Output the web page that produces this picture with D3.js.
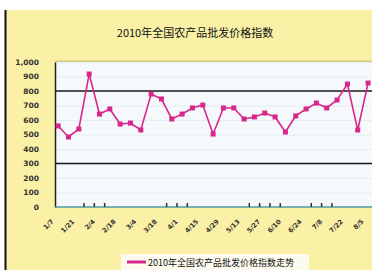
<!DOCTYPE html>
<html>
<head>
<meta charset="utf-8">
<script src="https://cdn.jsdelivr.net/npm/d3@7"></script>
<style>
  body { margin: 0; background: #fff; }
  svg { display: block; }
</style>
</head>
<body>
<div id="chart"></div>
<script>
var TITLE = "2010年全国农产品批发价格指数";
var LEGEND_LABEL = "2010年全国农产品批发价格指数走势";

// weekly dates, one per point
var CATEGORIES = [
    "1/7", "1/14", "1/21", "1/28", "2/4", "2/11", "2/18", "2/25", "3/4", "3/11",
    "3/18", "3/25", "4/1", "4/8", "4/15", "4/22", "4/29", "5/6", "5/13", "5/20",
    "5/27", "6/3", "6/10", "6/17", "6/24", "7/1", "7/8", "7/15", "7/22", "7/29", "8/5"
];
var VALUES = [
    559, 483, 538, 917, 641, 676, 572, 579, 531, 779,
    745, 607, 641, 683, 703, 503, 683, 683, 607, 621,
    648, 621, 517, 628, 676, 717, 683, 738, 848, 531, 855
];
var Y_TICKS = [0, 100, 200, 300, 400, 500, 600, 700, 800, 900, 1000];
var LIMIT_LINES = [800, 300];
// category boundaries that carry a visible tick mark on the x axis
var MARKED_BOUNDARIES = [3, 4, 5, 11, 12, 13, 19, 20, 21, 22, 25, 26, 27];

var width = 372;
var height = 270;
var LINE_COLOR = "#D9268C";

var svg = d3.select("#chart")
    .append("svg")
        .attr("width", width)
        .attr("height", height);

// outer chart panel
svg.append("rect")
    .attr("x", 5).attr("y", 10)
    .attr("width", width - 5).attr("height", height - 10)
    .attr("fill", "#FAF0A6");
svg.append("line")
    .attr("x1", 5.5).attr("x2", 5.5)
    .attr("y1", 10).attr("y2", height)
    .attr("stroke", "#111").attr("stroke-width", 2);

// plot area
var plot = {left: 55, right: 374, top: 62, bottom: 207};

svg.append("rect")
    .attr("x", plot.left).attr("y", plot.top)
    .attr("width", plot.right - plot.left).attr("height", plot.bottom - plot.top)
    .attr("fill", "#F5F9FB");
svg.append("line")
    .attr("x1", plot.left).attr("x2", plot.right)
    .attr("y1", plot.top - 0.5).attr("y2", plot.top - 0.5)
    .attr("stroke", "#D8CC80").attr("stroke-width", 2);

var xScale = d3.scaleBand()
    .domain(CATEGORIES)
    .range([53, 53 + CATEGORIES.length * 10.33]);
var xCenter = (d) => xScale(d) + xScale.bandwidth() / 2;

var yScale = d3.scaleLinear()
    .domain([0, 1000])
    .range([plot.bottom, plot.top]);

// faint gridlines
svg.append("g")
    .selectAll("line")
    .data(Y_TICKS.slice(1))
    .join("line")
        .attr("x1", plot.left).attr("x2", plot.right)
        .attr("y1", (d) => yScale(d) + 0.5).attr("y2", (d) => yScale(d) + 0.5)
        .attr("stroke", "#E4EEF2");

// limit lines
svg.append("g")
    .selectAll("line")
    .data(LIMIT_LINES)
    .join("line")
        .attr("x1", plot.left).attr("x2", plot.right)
        .attr("y1", (d) => yScale(d)).attr("y2", (d) => yScale(d))
        .attr("stroke", "#1a1a1a").attr("stroke-width", 1.6);

// y axis
var yAxis = svg.append("g")
    .attr("transform", "translate(" + plot.left + ",0)")
    .call(d3.axisLeft(yScale)
        .tickValues(Y_TICKS)
        .tickSize(0)
        .tickPadding(16)
        .tickFormat((d) => d === 0 ? "0" : d3.format(",")(d)));
yAxis.select(".domain")
    .attr("stroke", "#222").attr("stroke-width", 1.5);
yAxis.selectAll(".tick text")
    .attr("font-family", "DejaVu Sans, sans-serif")
    .attr("font-size", 7.5)
    .attr("font-weight", "bold")
    .attr("fill", "#333");

// x axis baseline
svg.append("line")
    .attr("x1", plot.left).attr("x2", plot.right)
    .attr("y1", plot.bottom).attr("y2", plot.bottom)
    .attr("stroke", "#4E9AA6").attr("stroke-width", 1.5);

svg.append("g")
    .selectAll("line")
    .data(MARKED_BOUNDARIES)
    .join("line")
        .attr("x1", (i) => xScale(CATEGORIES[i]))
        .attr("x2", (i) => xScale(CATEGORIES[i]))
        .attr("y1", plot.bottom - 4).attr("y2", plot.bottom)
        .attr("stroke", "#333").attr("stroke-width", 1.5);

// x labels, every second category
svg.append("g")
    .selectAll("text")
    .data(CATEGORIES.filter((d, i) => i % 2 === 0))
    .join("text")
        .attr("transform", (d) => "translate(" + (xCenter(d) - 4) + ",222) rotate(-45)")
        .attr("text-anchor", "end")
        .attr("font-family", "DejaVu Sans, sans-serif")
        .attr("font-size", 6.5)
        .attr("font-weight", "bold")
        .attr("fill", "#333")
        .text((d) => d);

// series line
svg.append("path")
    .datum(VALUES)
    .attr("fill", "none")
    .attr("stroke", LINE_COLOR)
    .attr("stroke-width", 1.6)
    .attr("d", d3.line()
        .x((d, i) => xCenter(CATEGORIES[i]))
        .y((d) => yScale(d)));

svg.append("g")
    .selectAll("rect")
    .data(VALUES)
    .join("rect")
        .attr("x", (d, i) => xCenter(CATEGORIES[i]) - 2.5)
        .attr("y", (d) => yScale(d) - 2.5)
        .attr("width", 5).attr("height", 5)
        .attr("fill", LINE_COLOR);

// title
svg.append("text")
    .attr("x", 195).attr("y", 37)
    .attr("text-anchor", "middle")
    .attr("font-family", "Noto Sans CJK SC, sans-serif")
    .attr("font-size", 11)
    .attr("fill", "#111")
    .text(TITLE);

// legend
svg.append("rect")
    .attr("x", 121).attr("y", 254)
    .attr("width", 188).attr("height", 16)
    .attr("fill", "#FDFBEF");
svg.append("line")
    .attr("x1", 127).attr("x2", 146)
    .attr("y1", 262).attr("y2", 262)
    .attr("stroke", LINE_COLOR).attr("stroke-width", 3);
svg.append("text")
    .attr("x", 148).attr("y", 265.5)
    .attr("font-family", "Noto Sans CJK SC, sans-serif")
    .attr("font-size", 9)
    .attr("fill", "#111")
    .text(LEGEND_LABEL);
</script>
</body>
</html>
